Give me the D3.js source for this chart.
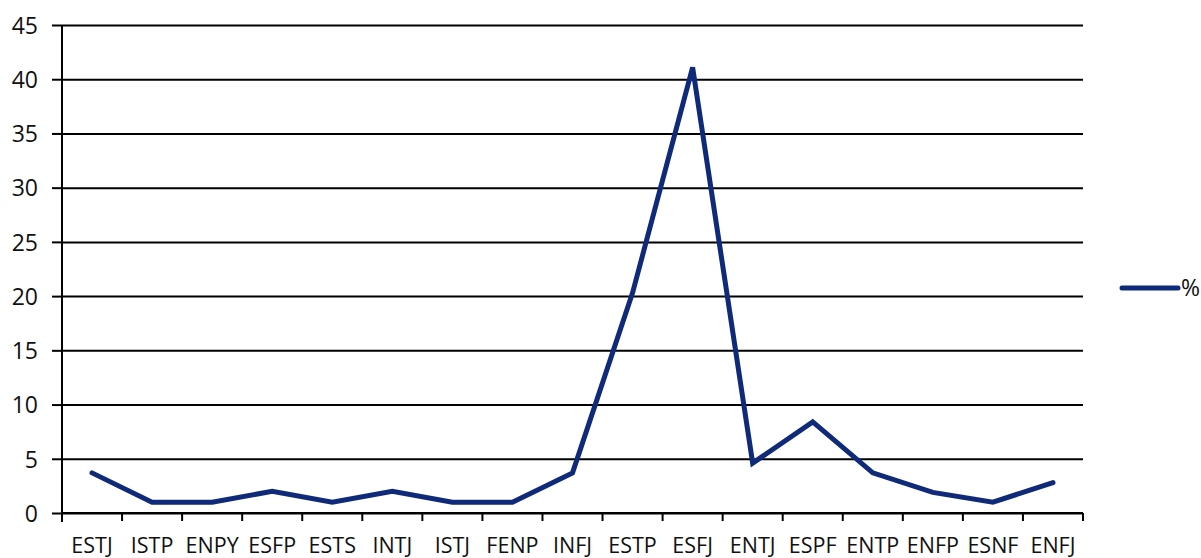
<!DOCTYPE html>
<html>
<head>
<meta charset="utf-8">
<script src="https://cdn.jsdelivr.net/npm/d3@7"></script>
<style>
  html, body { margin: 0; padding: 0; background: #fff; }
  svg { display: block; }
  text { font-family: "Open Sans", "Noto Sans", sans-serif; fill: #111; }
</style>
</head>
<body>
<svg id="chart" width="1201" height="558"></svg>
<script>
// Personality types and their share (%)
const categories = ["ESTJ","ISTP","ENPY","ESFP","ESTS","INTJ","ISTJ","FENP","INFJ",
                    "ESTP","ESFJ","ENTJ","ESPF","ENTP","ENFP","ESNF","ENFJ"];
const percentValues = [3.7, 1, 1, 2, 1, 2, 1, 1, 3.7, 20.3, 41.1, 4.6, 8.4, 3.7, 1.9, 1, 2.8];
const yTicks = [0, 5, 10, 15, 20, 25, 30, 35, 40, 45];
const seriesName = "%";

const svg = d3.select("#chart");
const plotLeft = 62, plotRight = 1083, plotTop = 25, plotBottom = 513;
const lineColor = "#0f2a78";

const x = d3.scaleBand().domain(categories).range([plotLeft, plotRight]);
const y = d3.scaleLinear().domain([0, 45]).range([plotBottom, plotTop]);

// Horizontal gridlines with outward tick marks
const yAxis = svg.append("g")
  .attr("transform", `translate(${plotLeft},0)`)
  .call(d3.axisLeft(y).tickValues(yTicks).tickSize(10).tickPadding(14));
yAxis.select(".domain").remove();
yAxis.selectAll(".tick line").attr("stroke", "#000").attr("stroke-width", 2);
yAxis.selectAll(".tick").append("line")
  .attr("x1", 0).attr("x2", plotRight - plotLeft)
  .attr("stroke", "#000").attr("stroke-width", 2);
yAxis.selectAll("text").style("font-size", "23px").attr("dy", "0.36em");

// Vertical axis line
svg.append("line")
  .attr("x1", plotLeft).attr("x2", plotLeft)
  .attr("y1", plotTop).attr("y2", plotBottom + 9)
  .attr("stroke", "#000").attr("stroke-width", 2);

// Category axis: ticks between categories, labels centred
const xAxis = svg.append("g").attr("transform", `translate(0,${plotBottom})`);
xAxis.append("line")
  .attr("x1", plotLeft).attr("x2", plotRight)
  .attr("stroke", "#000").attr("stroke-width", 2);
const boundaries = categories.map(c => x(c)).concat([plotRight]);
xAxis.selectAll("line.tick").data(boundaries).join("line")
  .attr("class", "tick")
  .attr("x1", d => d).attr("x2", d => d)
  .attr("y1", 0).attr("y2", 8)
  .attr("stroke", "#000").attr("stroke-width", 2);
xAxis.selectAll("text").data(categories).join("text")
  .attr("x", d => x(d) + x.bandwidth() / 2)
  .attr("y", 40)
  .attr("text-anchor", "middle")
  .style("font-size", "21.5px")
  .text(d => d);

// Series line
const line = d3.line()
  .x((d, i) => x(categories[i]) + x.bandwidth() / 2)
  .y(d => y(d));
svg.append("path")
  .datum(percentValues)
  .attr("d", line)
  .attr("fill", "none")
  .attr("stroke", lineColor)
  .attr("stroke-width", 5)
  .attr("stroke-linejoin", "miter")
  .attr("stroke-linecap", "round");

// Legend
const legend = svg.append("g");
legend.append("line")
  .attr("x1", 1122).attr("x2", 1178)
  .attr("y1", 288).attr("y2", 288)
  .attr("stroke", lineColor).attr("stroke-width", 5)
  .attr("stroke-linecap", "round");
legend.append("text")
  .attr("x", 1181).attr("y", 296)
  .style("font-size", "23px")
  .text(seriesName);
</script>
</body>
</html>
